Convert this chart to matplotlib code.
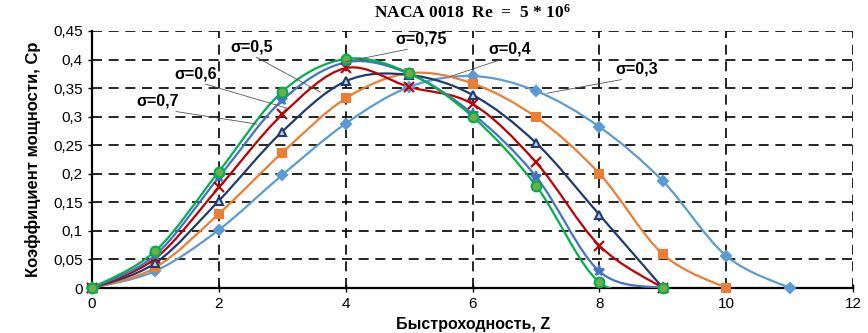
import matplotlib
matplotlib.use("Agg")
import matplotlib.pyplot as plt
import numpy as np
from matplotlib.path import Path
from matplotlib.patches import PathPatch
from matplotlib.ticker import FuncFormatter, MultipleLocator

plt.rcParams['font.family'] = ['Liberation Sans', 'DejaVu Sans']
plt.rcParams['mathtext.fontset'] = 'custom'
plt.rcParams['mathtext.rm'] = 'Liberation Serif:bold'
plt.rcParams['mathtext.default'] = 'rm'

# Быстроходность Z
z_03 = [0, 1, 2, 3, 4, 5, 6, 7, 8, 9, 10, 11]
cp_03 = [0, 0.030, 0.102, 0.198, 0.288, 0.352, 0.371, 0.345, 0.282, 0.187, 0.056, 0]
z_04 = [0, 1, 2, 3, 4, 5, 6, 7, 8, 9, 10]
cp_04 = [0, 0.036, 0.130, 0.237, 0.332, 0.376, 0.358, 0.299, 0.200, 0.059, 0]
z_05 = [0, 1, 2, 3, 4, 5, 6, 7, 8, 9]
cp_05 = [0, 0.044, 0.153, 0.274, 0.362, 0.373, 0.338, 0.254, 0.128, 0]
z_06 = [0, 1, 2, 3, 4, 5, 6, 7, 8, 9]
cp_06 = [0, 0.052, 0.176, 0.304, 0.385, 0.352, 0.322, 0.220, 0.074, 0]
z_07 = [0, 1, 2, 3, 4, 5, 6, 7, 8, 9]
cp_07 = [0, 0.058, 0.194, 0.329, 0.395, 0.375, 0.305, 0.195, 0.029, 0]
z_075 = [0, 1, 2, 3, 4, 5, 6, 7, 8, 9]
cp_075 = [0, 0.065, 0.204, 0.344, 0.401, 0.376, 0.300, 0.179, 0.010, 0]

series = [
    (z_03, cp_03, '#5B9BD5', 'D', '#5B9BD5', '#5B9BD5', 5),
    (z_04, cp_04, '#ED7D31', 's', '#ED7D31', '#ED7D31', 6),
    (z_05, cp_05, '#1F3A73', '^', '#BDD7EE', '#1F3A73', 6),
    (z_06, cp_06, '#C00000', 'x', '#C00000', '#C00000', 7),
    (z_07, cp_07, '#4472C4', '*', '#4472C4', '#4472C4', 8),
    (z_075, cp_075, '#00B050', 'o', '#70AD47', '#00B050', 7),
]

labels = ['σ=0,3', 'σ=0,4', 'σ=0,5', 'σ=0,6', 'σ=0,7', 'σ=0,75']
label_xy = [(8.59, 0.383), (6.58, 0.418), (2.51, 0.422), (1.64, 0.375), (1.04, 0.327), (5.19, 0.436)]
arrow_xy = [(7.17, 0.341), (5.64, 0.370), (3.60, 0.343), (3.07, 0.315), (2.60, 0.287), (3.99, 0.396)]


def smooth_path(x, y):
    # кривая Безье как в Excel (сглаженная линия)
    pts = np.column_stack([x, y]).astype(float)
    n = len(pts)
    verts = [pts[0]]
    codes = [Path.MOVETO]
    for i in range(n - 1):
        p0 = pts[i - 1] if i > 0 else pts[i]
        p1 = pts[i]
        p2 = pts[i + 1]
        p3 = pts[i + 2] if i + 2 < n else pts[i + 1]
        c1 = p1 + (p2 - p0) / 6.0
        c2 = p2 - (p3 - p1) / 6.0
        verts += [c1, c2, p2]
        codes += [Path.CURVE4] * 3
    return Path(verts, codes)


fig = plt.figure(figsize=(8.68, 3.33), dpi=100)
ax = fig.add_axes([0.106, 0.135, 0.877, 0.772])

for x, y, col, mk, fc, ec, ms in series:
    ax.add_patch(PathPatch(smooth_path(x, y), facecolor='none', edgecolor=col, lw=1.6, zorder=3))
    ax.plot(x, y, linestyle='none', marker=mk, color=col, markerfacecolor=fc,
            markeredgecolor=ec, markersize=ms, markeredgewidth=1.5, zorder=4, clip_on=False)

ax.set_xlim(0, 12)
ax.set_ylim(0, 0.45)
ax.xaxis.set_major_locator(MultipleLocator(2))
ax.yaxis.set_major_locator(MultipleLocator(0.05))
ax.yaxis.set_major_formatter(FuncFormatter(lambda v, p: ('%g' % round(v, 2)).replace('.', ',')))
ax.grid(True, color='black', linestyle=(0, (6, 4)), lw=1.2)
ax.set_axisbelow(True)
ax.spines['top'].set_visible(False)
ax.spines['right'].set_visible(False)
ax.spines['left'].set_linewidth(1.6)
ax.spines['bottom'].set_linewidth(1.6)
ax.tick_params(axis='both', labelsize=11, length=3, width=1, colors='black')
ax.tick_params(axis='x', direction='inout', length=6)

ax.set_xlabel('Быстроходность, Z', fontsize=11.5, fontweight='bold', labelpad=4)
ax.set_ylabel('Коэффициент мощности, Ср', fontsize=12, fontweight='bold', labelpad=9)

for lab, txy, axy in zip(labels, label_xy, arrow_xy):
    ax.annotate(lab, xy=axy, xytext=txy, fontsize=11.5, fontweight='bold',
                ha='center', va='center', zorder=6,
                arrowprops=dict(arrowstyle='-', color='#555555', lw=0.6, shrinkA=0, shrinkB=0,
                                relpos=(0.5, 0.0)))

fig.text(0.544, 0.962, r'NACA 0018  Re  =  5 $*$ 10$^{6}$', family='Liberation Serif',
         fontsize=12.5, fontweight='bold', ha='center', va='center')

fig.savefig('out.png', dpi=100)
